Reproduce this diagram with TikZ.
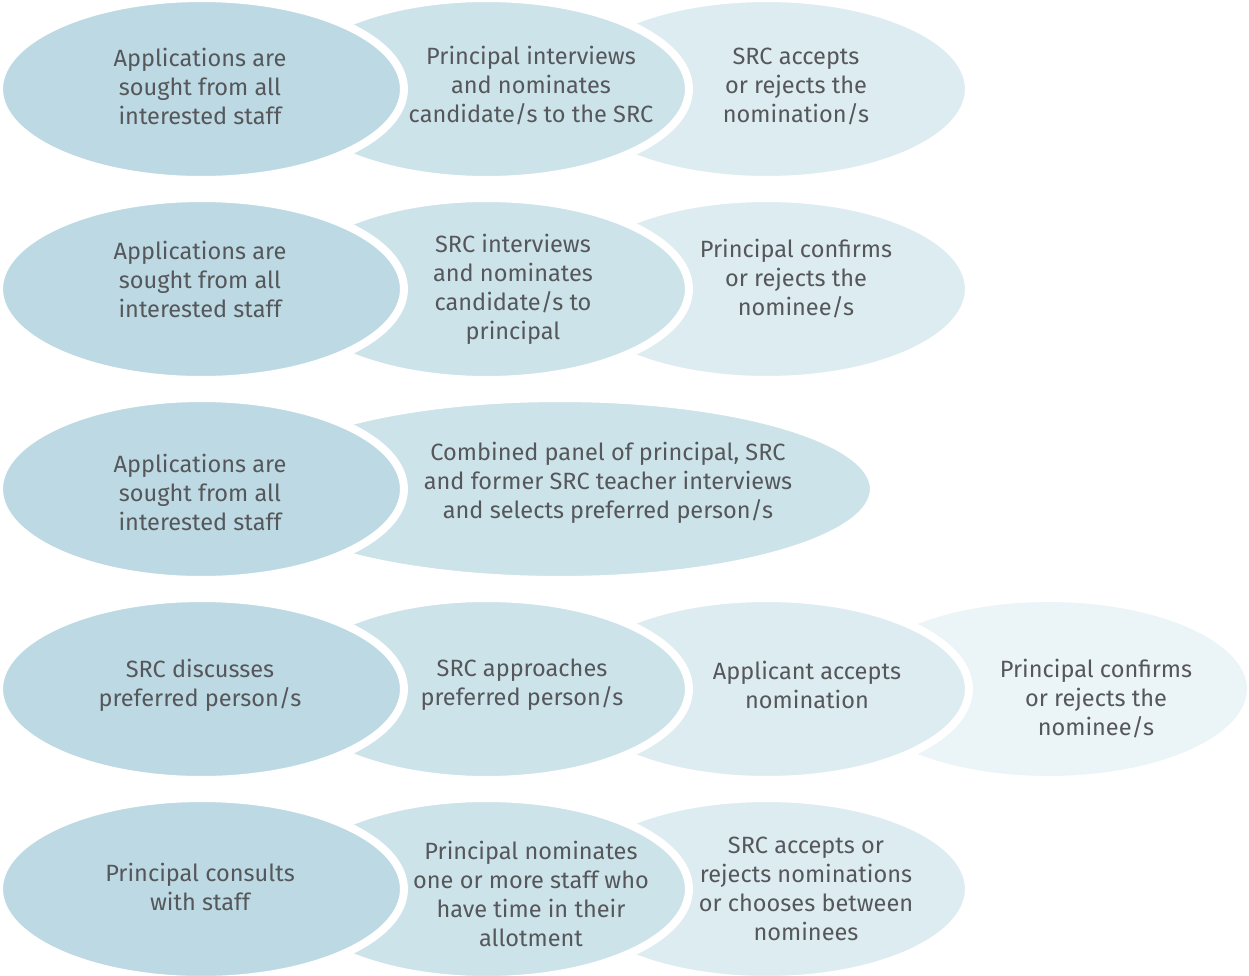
\documentclass[tikz,border=0pt]{standalone}
\usepackage{fontspec}
\setmainfont{Fira Sans}
\usetikzlibrary{shapes.geometric}
\usepackage{xcolor}

\definecolor{toneA}{RGB}{189,218,228}
\definecolor{toneB}{RGB}{205,227,234}
\definecolor{toneC}{RGB}{221,236,241}
\definecolor{toneD}{RGB}{235,244,247}
\definecolor{ink}{RGB}{85,87,90}

\tikzset{
  blob/.style={ellipse, draw=white, line width=0.16cm, inner sep=0pt,
    minimum width=8.1cm, minimum height=3.64cm},
  lbl/.style={align=center, text=ink, inner sep=0pt,
    font=\fontsize{13.4}{16.5}\selectfont},
}

\begin{document}
\begin{tikzpicture}[x=0.02cm, y=-0.02cm]
        \useasboundingbox (0,0) rectangle (1249,975);

        % row 1
        \node[blob, fill=toneC] (r1c) at (766.5,89) {};
        \node[blob, fill=toneB] (r1b) at (486.5,89) {};
        \node[blob, fill=toneA] (r1a) at (201.5,89) {};
        \node[lbl] (r1aT) at (200,86) {Applications are\\sought from all\\interested staff};
        \node[lbl] (r1bT) at (531,86) {Principal interviews\\and nominates\\candidate/s to the SRC};
        \node[lbl] (r1cT) at (796,86) {SRC accepts\\or rejects the\\nomination/s};

        % row 2
        \node[blob, fill=toneC] (r2c) at (766.5,289) {};
        \node[blob, fill=toneB] (r2b) at (486.5,289) {};
        \node[blob, fill=toneA] (r2a) at (201.5,289) {};
        \node[lbl] (r2aT) at (200,279) {Applications are\\sought from all\\interested staff};
        \node[lbl] (r2bT) at (513,289) {SRC interviews\\and nominates\\candidate/s to\\principal};
        \node[lbl] (r2cT) at (796,279) {Principal confirms\\or rejects the\\nominee/s};

        % row 3
        \node[blob, fill=toneB, minimum width=12.56cm] (r3b) at (560,489) {};
        \node[blob, fill=toneA] (r3a) at (201.5,489) {};
        \node[lbl] (r3aT) at (200,492) {Applications are\\sought from all\\interested staff};
        \node[lbl] (r3bT) at (608,483) {Combined panel of principal, SRC\\and former SRC teacher interviews\\and selects preferred person/s};

        % row 4
        \node[blob, fill=toneD] (r4d) at (1048.5,689) {};
        \node[blob, fill=toneC] (r4c) at (766.5,689) {};
        \node[blob, fill=toneB] (r4b) at (486.5,689) {};
        \node[blob, fill=toneA] (r4a) at (201.5,689) {};
        \node[lbl] (r4aT) at (200,685) {SRC discusses\\preferred person/s};
        \node[lbl] (r4bT) at (522,685) {SRC approaches\\preferred person/s};
        \node[lbl] (r4cT) at (807,685) {Applicant accepts\\nomination};
        \node[lbl] (r4dT) at (1096,699) {Principal confirms\\or rejects the\\nominee/s};

        % row 5
        \node[blob, fill=toneC] (r5c) at (766.5,889) {};
        \node[blob, fill=toneB] (r5b) at (486.5,889) {};
        \node[blob, fill=toneA] (r5a) at (201.5,889) {};
        \node[lbl] (r5aT) at (200,887) {Principal consults\\with staff};
        \node[lbl] (r5bT) at (531,894) {Principal nominates\\one or more staff who\\have time in their\\allotment};
        \node[lbl] (r5cT) at (806,889) {SRC accepts or\\rejects nominations\\or chooses between\\nominees};
    \end{tikzpicture}
\end{document}
